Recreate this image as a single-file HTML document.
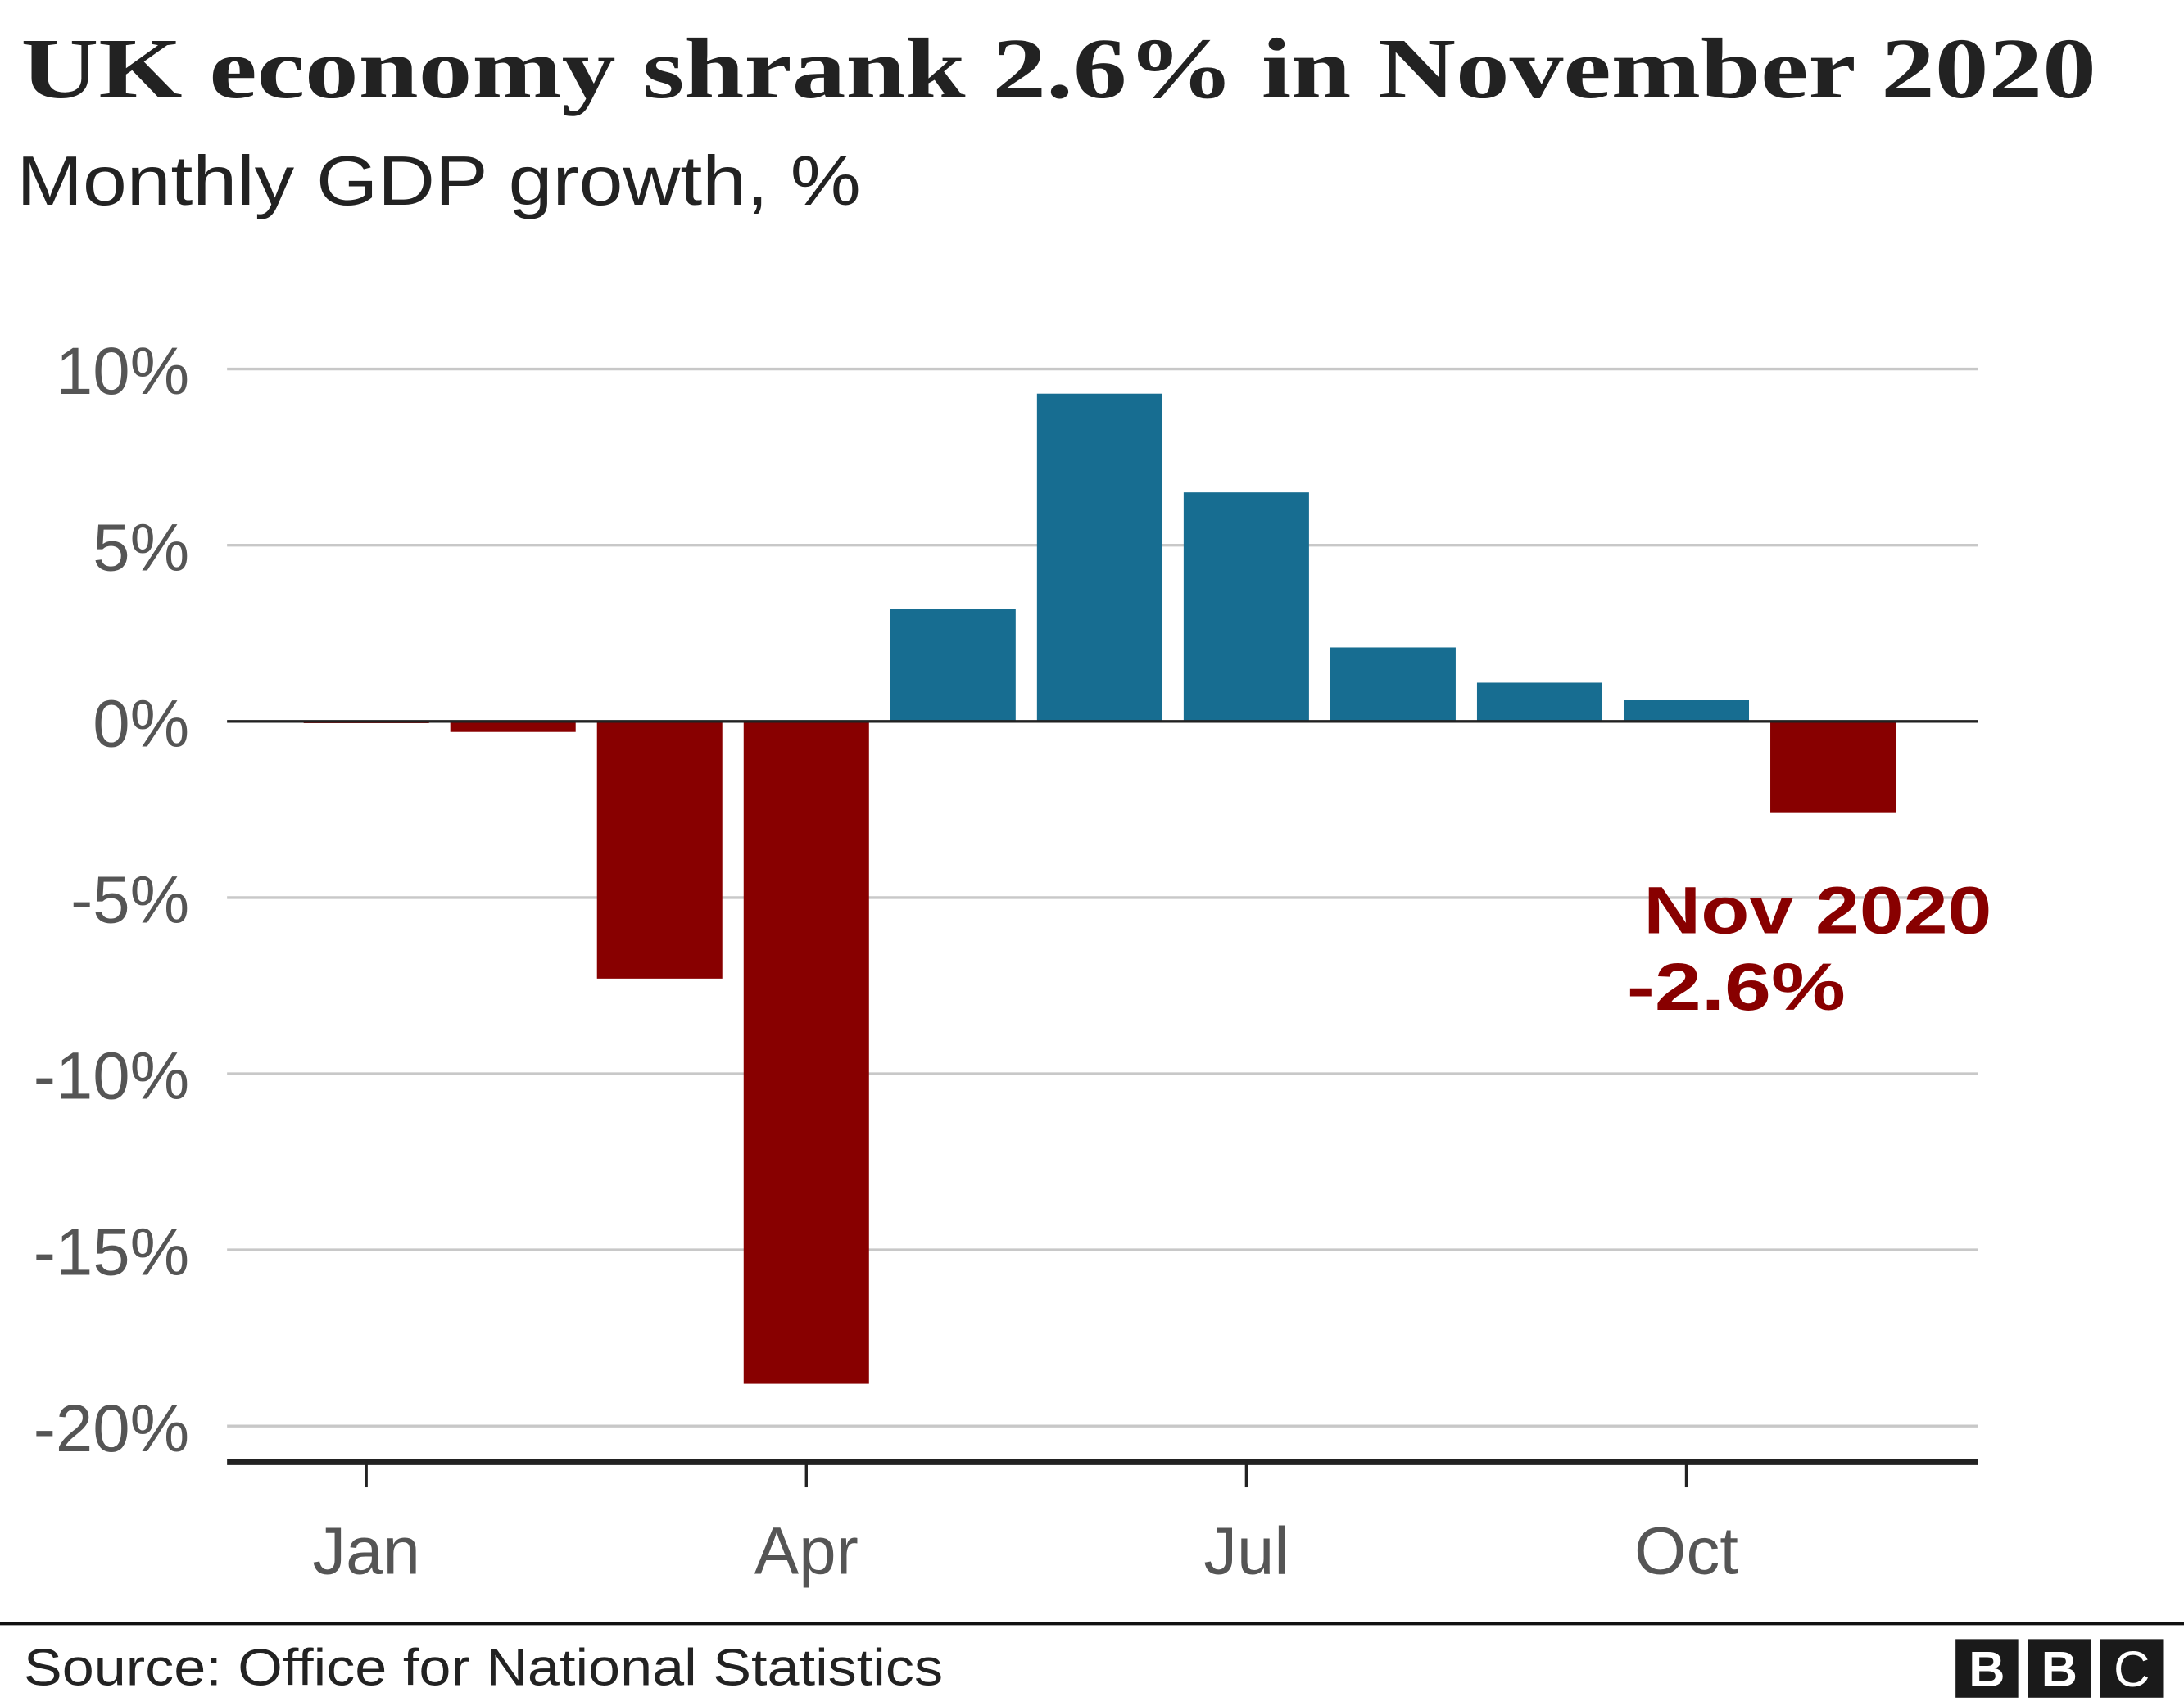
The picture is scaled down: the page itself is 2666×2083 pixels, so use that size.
<!DOCTYPE html>
<html><head><meta charset="utf-8"><style>
html,body{margin:0;padding:0;background:#fff;}
svg{display:block;}
</style></head><body>
<svg id="chart" width="2666" height="2083" viewBox="0 0 1568 1225" preserveAspectRatio="none" xmlns="http://www.w3.org/2000/svg">
<rect width="1568" height="1225" fill="#fff"/>
<text x="15" y="70" font-family="Liberation Serif, serif" font-weight="bold" font-size="62" fill="#222" textLength="1490" lengthAdjust="spacingAndGlyphs">UK economy shrank 2.6% in November 2020</text>
<text x="12" y="147" font-family="Liberation Sans, sans-serif" font-size="50" fill="#222" textLength="606" lengthAdjust="spacingAndGlyphs">Monthly GDP growth, %</text>
<g id="grid"></g>
<g id="bars"></g>
<g id="xaxis"></g>
<text x="1180" y="670" font-family="Liberation Sans, sans-serif" font-weight="bold" font-size="48" fill="#880000" textLength="250" lengthAdjust="spacingAndGlyphs">Nov 2020</text>
<text x="1168" y="725" font-family="Liberation Sans, sans-serif" font-weight="bold" font-size="48" fill="#880000" textLength="157" lengthAdjust="spacingAndGlyphs">-2.6%</text>
<line x1="0" x2="1568" y1="1166" y2="1166" stroke="#111" stroke-width="2"/>
<text x="17" y="1210" font-family="Liberation Sans, sans-serif" font-size="37" fill="#222" textLength="660" lengthAdjust="spacingAndGlyphs">Source: Office for National Statistics</text>
<g font-family="Liberation Sans, sans-serif" font-weight="bold" font-size="36" fill="#fff" text-anchor="middle">
<rect x="1404" y="1177" width="45" height="42" fill="#1a1a1a"/><text x="1426.5" y="1211">B</text>
<rect x="1456" y="1177" width="45" height="42" fill="#1a1a1a"/><text x="1478.5" y="1211">B</text>
<rect x="1508" y="1177" width="45" height="42" fill="#1a1a1a"/><text x="1530.5" y="1211" font-weight="normal">C</text>
</g>
</svg>
<script>
const months = ["Jan","Feb","Mar","Apr","May","Jun","Jul","Aug","Sep","Oct","Nov"];
const growth = [-0.05,-0.3,-7.3,-18.8,3.2,9.3,6.5,2.1,1.1,0.6,-2.6];
const yTicks = [10,5,0,-5,-10,-15,-20];
const yTickLabels = ["10%","5%","0%","-5%","-10%","-15%","-20%"];
const xTickLabels = ["Jan","Apr","Jul","Oct"];

const NS = "http://www.w3.org/2000/svg";
function y(v){ return 518 - v * 25.3; }
function x(i){ return 263 + i * 105.3; }
function mk(tag, attrs){ const e = document.createElementNS(NS, tag); for (const k in attrs) e.setAttribute(k, attrs[k]); return e; }

const grid = document.getElementById('grid');
yTicks.forEach((t, i) => {
  if (t !== 0) {
    const l = mk('line', {x1:163, x2:1420, y1:y(t), y2:y(t), stroke:'#c8c8c8', 'stroke-width':2});
    
    
    grid.appendChild(l);
  }
  const tx = mk('text', {x:136, y:y(t)+18, 'text-anchor':'end', 'font-family':'Liberation Sans, sans-serif', 'font-size':48, fill:'#555'});
  tx.textContent = yTickLabels[i];
  
  
  grid.appendChild(tx);
});

const bars = document.getElementById('bars');
growth.forEach((v, i) => {
  const top = Math.min(y(v), y(0));
  const h = Math.max(Math.abs(y(v) - y(0)), 1);
  const r = mk('rect', {x:x(i)-45, y:top, width:90, height:h, fill: v < 0 ? '#880000' : '#176d91'});
  
  
  bars.appendChild(r);
});
const zl = mk('line', {x1:163, x2:1420, y1:y(0), y2:y(0), stroke:'#222', 'stroke-width':2});


bars.appendChild(zl);

const xa = document.getElementById('xaxis');
const base = mk('line', {x1:163, x2:1420, y1:1050, y2:1050, stroke:'#222', 'stroke-width':4});


xa.appendChild(base);
xTickLabels.forEach(lbl => {
  const i = months.indexOf(lbl);
  const t = mk('line', {x1:x(i), x2:x(i), y1:1050, y2:1068, stroke:'#222', 'stroke-width':2});
  
  
  xa.appendChild(t);
  const tx = mk('text', {x:x(i), y:1130, 'text-anchor':'middle', 'font-family':'Liberation Sans, sans-serif', 'font-size':48, fill:'#555'});
  tx.textContent = lbl;
  
  
  xa.appendChild(tx);
});
</script>
</body></html>
